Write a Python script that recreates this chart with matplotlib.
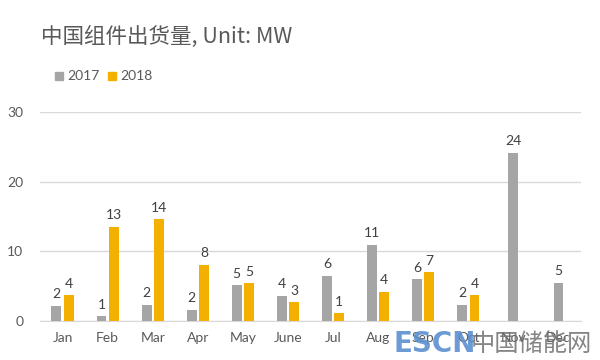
import numpy as np
import matplotlib
matplotlib.use("Agg")
import matplotlib.pyplot as plt

# values
months = ["Jan", "Feb", "Mar", "Apr", "May", "June", "Jul", "Aug", "Sep", "Oct", "Nov", "Dec"]
mw_2017 = [2.2, 0.7, 2.3, 1.6, 5.1, 3.6, 6.5, 10.9, 6.0, 2.3, 24.1, 5.5]
mw_2018 = [3.7, 13.5, 14.6, 8.1, 5.4, 2.7, 1.1, 4.2, 7.0, 3.7, None, None]
labels_2017 = ["2", "1", "2", "2", "5", "4", "6", "11", "6", "2", "24", "5"]
labels_2018 = ["4", "13", "14", "8", "5", "3", "1", "4", "7", "4", None, None]
yticks = [0, 10, 20, 30]

c17 = "#a5a5a5"
c18 = "#f4b000"
txt = "#595959"
latin = ["Lato", "DejaVu Sans"]
cjk = ["Noto Sans CJK SC", "DejaVu Sans"]

fig = plt.figure(figsize=(6, 3.6), dpi=100)
ax = fig.add_axes([0.0667, 0.1083, 0.9017, 0.581])

w = 0.22
off = 0.137
lab_kw = dict(ha="center", va="bottom", fontsize=10, color="#404040", family=latin)
for i, m in enumerate(months):
    a, b = mw_2017[i], mw_2018[i]
    if b is None:
        ax.bar(i, a, w, color=c17, zorder=3)
        ax.text(i, a + 0.8, labels_2017[i], **lab_kw)
    else:
        ax.bar(i - off, a, w, color=c17, zorder=3)
        ax.bar(i + off, b, w, color=c18, zorder=3)
        ax.text(i - off, a + 0.8, labels_2017[i], **lab_kw)
        ax.text(i + off, b + 0.8, labels_2018[i], **lab_kw)

ax.set_xlim(-0.5, len(months) - 0.5)
ax.set_ylim(0, 30)
ax.set_yticks(yticks)
ax.set_xticks(range(len(months)))
ax.set_xticklabels(months)
ax.yaxis.grid(True, color="#d9d9d9", linewidth=1, zorder=0)
ax.tick_params(axis="x", length=0, labelsize=10, labelcolor=txt, pad=8)
ax.tick_params(axis="y", length=0, labelsize=10, labelcolor=txt, pad=12)
for lab in ax.get_xticklabels() + ax.get_yticklabels():
    lab.set_family(latin)
for s in ["top", "right", "left"]:
    ax.spines[s].set_visible(False)
ax.spines["bottom"].set_color("#d9d9d9")

# title and legend
fig.text(0.068, 0.897, "中国组件出货量, Unit: MW", fontsize=15.5, color=txt,
         family=cjk, va="center", ha="left")
fig.patches.append(plt.Rectangle((0.092, 0.778), 0.0125, 0.022, color=c17,
                                 transform=fig.transFigure, figure=fig))
fig.text(0.112, 0.789, "2017", fontsize=10, color=txt, family=latin, va="center")
fig.patches.append(plt.Rectangle((0.18, 0.778), 0.0125, 0.022, color=c18,
                                 transform=fig.transFigure, figure=fig))
fig.text(0.2, 0.789, "2018", fontsize=10, color=txt, family=latin, va="center")

# watermark
fig.text(0.655, 0.045, "ESCN", fontsize=20, fontweight="bold", color="#5b8fd0",
         family=["DejaVu Sans"], alpha=0.9, va="center")
fig.text(0.785, 0.045, "中国储能网", fontsize=17.5, color="#707070",
         family=cjk, alpha=0.85, va="center")

fig.savefig("out.png", dpi=100, facecolor="white")
